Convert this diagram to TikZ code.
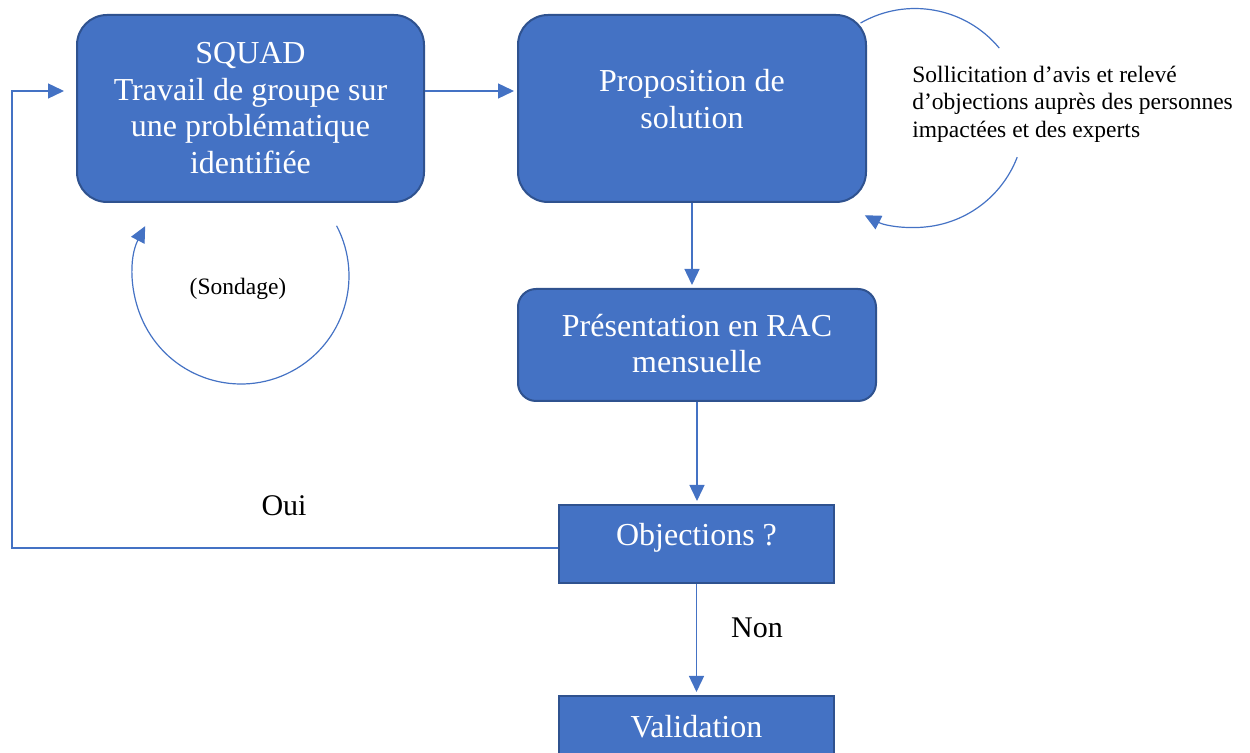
\documentclass[tikz,border=0pt]{standalone}
\usepackage{fontspec}
\setmainfont{Liberation Serif}
\usetikzlibrary{arrows.meta}
\definecolor{boxblue}{HTML}{4472C4}
\definecolor{boxedge}{HTML}{2F528F}
\begin{document}
\begin{tikzpicture}[x=0.5pt,y=-0.5pt,
  box/.style={draw=boxedge, line width=1pt, fill=boxblue, inner sep=0pt},
  rbox/.style={box, rounded corners=15pt},
  big/.style={text=white, font=\fontsize{16}{18.4}\selectfont, align=center, inner sep=0pt},
  lbl/.style={font=\fontsize{15}{18}\selectfont, inner sep=0pt},
  small/.style={font=\fontsize{11.75}{13.8}\selectfont, inner sep=0pt, align=left},
  tip/.style={-{Triangle[length=8pt,width=7.5pt]}},
  arr/.style={draw=boxblue, line width=0.7pt, tip, shorten >=1.5pt},
  loopline/.style={draw=boxblue, line width=0.6pt}]
\clip (0,0) rectangle (1250,753);

% boxes
\node[rbox, minimum width=173.5pt, minimum height=93.5pt] (squad) at (250.5,108.5) {};
\node[rbox, minimum width=174pt, minimum height=93.5pt] (prop) at (692,108.5) {};
\node[box, rounded corners=9pt, minimum width=179pt, minimum height=56pt] (pres) at (697,345) {};
\node[box, minimum width=137.5pt, minimum height=39pt] (obj) at (696.5,544) {};
\node[box, minimum width=137.5pt, minimum height=39pt] (valid) at (696.5,735) {};

% box texts
\node[big] (squad-t) at (250.5,108) {SQUAD\\Travail de groupe sur\\une problématique\\identifiée};
\node[big] (prop-t) at (692,99) {Proposition de\\solution};
\node[big] (pres-t) at (697,343.5) {Présentation en RAC\\mensuelle};
\node[big] (obj-t) at (696.5,538) {Objections ?};
\node[big] (valid-t) at (696.5,727) {Validation};

% free labels
\node[small, anchor=west] (soll) at (912,104) {Sollicitation d’avis et relevé\\d’objections auprès des personnes\\impactées et des experts};
\node[font=\fontsize{11.75}{14}\selectfont, inner sep=0pt] (sond) at (238,289) {(Sondage)};
\node[lbl] (oui) at (284,506) {Oui};
\node[lbl] (non) at (757,628) {Non};

% connectors
\draw[arr] ([yshift=8.75pt]squad.east) -- ([yshift=8.75pt]prop.west);
\draw[arr] (prop.south) -- (prop.south |- pres.north);
\draw[arr] (pres.south) -- (pres.south |- obj.north);
\draw[arr] (obj.south) -- (valid.north);
\coordinate (sqin) at ([xshift=-6pt,yshift=8.75pt]squad.west);
\coordinate (lcorner) at (12,91);
\draw[arr, shorten >=0pt] ([yshift=-2pt]obj.west) -| (lcorner) -- (sqin);

% loops
\coordinate (sondA) at (336.6,225.8);
\draw[loopline, tip] (sondA) arc[start angle=27.7, end angle=-207.5, radius=54pt];
\coordinate (solA) at (860.6,23);
\draw[loopline] (solA) arc[start angle=119.8, end angle=39.7, radius=54.75pt];
\coordinate (solC) at (1017.2,157.2);
\draw[loopline, tip] (solC) arc[start angle=-21, end angle=-117.3, radius=54.75pt];
\end{tikzpicture}
\end{document}
